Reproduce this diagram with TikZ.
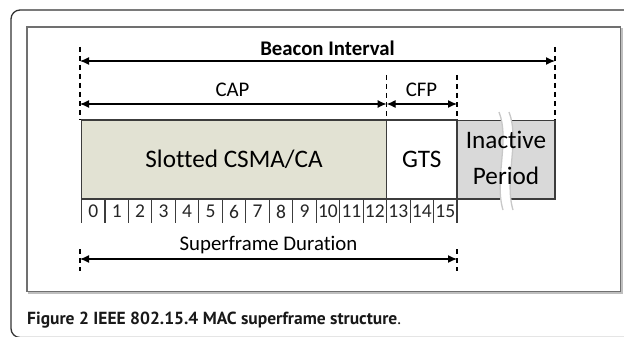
\documentclass[tikz,border=0pt]{standalone}
\usepackage{fontspec}
\setmainfont{Carlito}[Ligatures=NoCommon]
\newfontfamily\capfont{PT Sans}
\usetikzlibrary{arrows.meta}
\definecolor{framegray}{HTML}{333333}
\definecolor{innergray}{HTML}{707070}
\definecolor{capfill}{HTML}{E2E2D3}
\definecolor{inactfill}{HTML}{D9D9D9}
\definecolor{boxline}{HTML}{3C3C3C}
\definecolor{breakgray}{HTML}{C8C8C8}
\tikzset{
  guide/.style={draw=black, line width=1.1pt, dash pattern=on 5pt off 4pt},
  span/.style={draw=black, line width=1.2pt, {Latex[length=9pt,width=8pt]}-{Latex[length=9pt,width=8pt]}},
  field/.style={draw=boxline, line width=1.1pt},
  tick/.style={draw=boxline, line width=1.1pt},
  lbl/.style={font=\fontsize{20.8}{23}\selectfont, text=black, inner sep=0pt},
  boxlbl/.style={font=\fontsize{25.2}{28}\selectfont, text=black, inner sep=0pt, align=center},
  num/.style={font=\fontsize{19.5}{21}\selectfont, text=black!85, inner sep=0pt}
}
\begin{document}
\begin{tikzpicture}[x=1pt,y=-1pt]
\useasboundingbox (0,0) rectangle (624,337);

% outer rounded frame, running off the right and bottom edges
\begin{scope}
\clip (0,0) rectangle (624,337);
\draw[framegray, line width=1.3pt, rounded corners=9pt] (11,10) rectangle (660,337.5);
\end{scope}

% inner panel with a soft shadow
\draw[gray!50, line width=1.2pt] (28.5,28.5) rectangle (622,293);
\draw[innergray, line width=1.2pt, fill=white] (27,27) rectangle (620.5,291.5);

% frame fields
\path[field, fill=capfill] (81.5,120) rectangle (386.6,199) node[pos=.5, boxlbl] (csma) {Slotted CSMA/CA};
\path[field, fill=white] (386.6,120) rectangle (457,199) node[pos=.5, boxlbl] (gts) {GTS};
\path[field, fill=inactfill] (457,120.5) rectangle (555,199);

% break in the inactive period
\fill[white] (499,112) .. controls (510,140) and (494,180) .. (503,210)
  -- (513,210) .. controls (504,180) and (520,140) .. (509,112) -- cycle;
\draw[breakgray, line width=1.3pt] (499,112) .. controls (510,140) and (494,180) .. (503,210);
\draw[breakgray, line width=1.3pt] (509,112) .. controls (520,140) and (504,180) .. (513,210);

\node[boxlbl, anchor=base] (inact) at (506,148.5) {Inactive};
\node[boxlbl, anchor=base] (period) at (506,184.5) {Period};

% slot numbers and ticks
\foreach \i in {0,...,16} {
  \coordinate (t\i) at ({81.5+23.47*\i},199);
  \coordinate (b\i) at ({81.5+23.47*\i},223);
  \draw[tick] (t\i) -- (b\i);
}
\foreach \i in {0,...,15} {
  \node[num] (n\i) at ({81.5+23.47*(\i+0.5)},211.5) {\i};
}

% guide marks
\coordinate (g0top) at (80,47);   \coordinate (g0mid) at (80,120);
\coordinate (g1top) at (386.6,75); \coordinate (g1mid) at (386.6,120);
\coordinate (g2top) at (457,75);  \coordinate (g2mid) at (457,120);
\coordinate (g3top) at (555,47);  \coordinate (g3mid) at (555,120);
\coordinate (g0lo) at (80,249);   \coordinate (g0bot) at (80,271);
\coordinate (g2lo) at (457,249);  \coordinate (g2bot) at (457,271);
\draw[guide] (g0top) -- (g0mid);
\draw[guide] (g1top) -- (g1mid);
\draw[guide] (g2top) -- (g2mid);
\draw[guide] (g3top) -- (g3mid);
\draw[guide] (g0lo) -- (g0bot);
\draw[guide] (g2lo) -- (g2bot);

% spans
\coordinate (biL) at (80,61);  \coordinate (biR) at (555,61);
\coordinate (capL) at (80,104); \coordinate (capR) at (386.6,104);
\coordinate (cfpR) at (457,104);
\coordinate (sfL) at (80,259); \coordinate (sfR) at (457,259);
\draw[span] (biL) -- (biR);
\draw[span] (capL) -- (capR);
\draw[span] (capR) -- (cfpR);
\draw[span] (sfL) -- (sfR);

\node[lbl, font=\fontsize{20.8}{23}\selectfont\bfseries, anchor=base] (bi) at (327.5,56) {Beacon Interval};
\node[lbl, anchor=base] (cap) at (232.5,96) {CAP};
\node[lbl, anchor=base] (cfp) at (421.5,96) {CFP};
\node[lbl, anchor=base] (sf) at (268.5,250) {Superframe Duration};

% caption
\node[inner sep=0pt, anchor=base west, font=\capfont\fontsize{17.5}{20}\selectfont, text=black!90] (caption) at (27,324)
  {\textbf{Figure 2 IEEE 802.15.4 MAC superframe structure}.};
\end{tikzpicture}
\end{document}
